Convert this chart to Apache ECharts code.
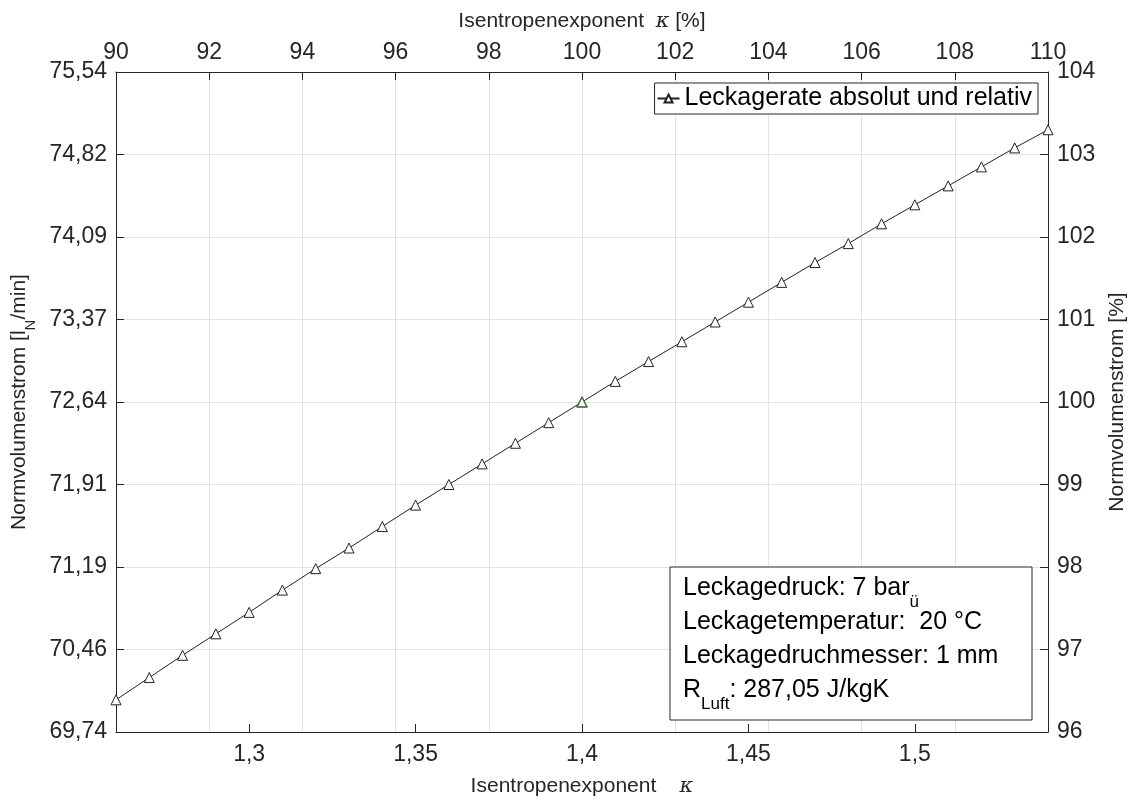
<!DOCTYPE html>
<html>
<head>
<meta charset="utf-8">
<script src="https://cdn.jsdelivr.net/npm/echarts@6/dist/echarts.min.js"></script>
<style>html,body{margin:0;padding:0;background:#fff}#c{width:1141px;height:800px}</style>
</head>
<body>
<div id="c"></div>
<script>
const kappa = [1.26,1.27,1.28,1.29,1.30,1.31,1.32,1.33,1.34,1.35,1.36,1.37,1.38,1.39,1.40,1.41,1.42,1.43,1.44,1.45,1.46,1.47,1.48,1.49,1.50,1.51,1.52,1.53,1.54];
const leckagerateRel = [96.39,96.66,96.93,97.19,97.45,97.72,97.98,98.23,98.49,98.75,99.00,99.25,99.50,99.75,100.00,100.25,100.49,100.73,100.97,101.21,101.45,101.69,101.92,102.16,102.39,102.62,102.85,103.08,103.30];
const referenzPunkt = [[1.40, 100.00]];
const leftTickLabels = ['69,74','70,46','71,19','71,91','72,64','73,37','74,09','74,82','75,54'];
const bottomTicks = [1.3,1.35,1.4,1.45,1.5];
const legendName = 'Leckagerate absolut und relativ';
const infoLines = [
  'Leckagedruck: 7 bar{sub|ü}',
  'Leckagetemperatur:  20 °C',
  'Leckagedruchmesser: 1 mm',
  'R{sub|Luft}: 287,05 J/kgK'
];

const FONT = 'Liberation Sans, Arial, sans-serif';
const TXT = '#262626';
const AX = '#262626';
const GRID = '#e3e3e3';
const FS = 23;   // tick labels
const TFS = 21;  // axis titles
const BFS = 25;  // legend / info box

const chart = echarts.init(document.getElementById('c'), null, {renderer:'canvas'});
const data = kappa.map((k,i)=>[k, leckagerateRel[i]]);
const itRich = {it:{fontFamily:'DejaVu Serif, serif',fontStyle:'italic',fontSize:TFS,color:TXT}};

chart.setOption({
  animation:false,
  backgroundColor:'#fff',
  textStyle:{fontFamily:FONT},
  grid:{left:116,right:93,top:72,bottom:68,containLabel:false,outerBoundsMode:'none'},
  legend:{
    show:true, right:103, top:83, orient:'horizontal',
    data:[legendName],
    backgroundColor:'#fff', borderColor:'#262626', borderWidth:1,
    padding:[3,6,3,2], itemWidth:22, itemHeight:10, itemGap:4,
    textStyle:{fontFamily:FONT,fontSize:BFS,color:'#000'}
  },
  xAxis:[
    {type:'value', position:'bottom', min:1.26, max:1.54,
     name:'Isentropenexponent    {it|κ}', nameLocation:'middle', nameGap:44,
     nameTextStyle:{fontFamily:FONT,fontSize:TFS,color:TXT,rich:itRich},
     axisLine:{show:true,lineStyle:{color:AX,width:1}},
     axisTick:{show:true,inside:true,length:8,customValues:bottomTicks,lineStyle:{color:AX}},
     axisLabel:{show:true,customValues:bottomTicks,margin:11,fontFamily:FONT,fontSize:FS,color:TXT,
       formatter:v=>String(Math.round(v*100)/100).replace('.',',')},
     splitLine:{show:false}},
    {type:'value', position:'top', min:90, max:110, interval:2,
     name:'Isentropenexponent  {it|κ} [%]', nameLocation:'middle', nameGap:40,
     nameTextStyle:{fontFamily:FONT,fontSize:TFS,color:TXT,rich:itRich},
     axisLine:{show:true,lineStyle:{color:AX,width:1}},
     axisTick:{show:true,inside:true,length:8,lineStyle:{color:AX}},
     axisLabel:{show:true,margin:8,fontFamily:FONT,fontSize:FS,color:TXT},
     splitLine:{show:true,lineStyle:{color:GRID,width:1}}}
  ],
  yAxis:[
    {type:'value', position:'left', min:96, max:104, interval:1,
     name:'Normvolumenstrom [l{sub|N}/min]', nameLocation:'middle', nameGap:73,
     nameTextStyle:{fontFamily:FONT,fontSize:TFS,color:TXT,rich:{sub:{fontFamily:FONT,fontSize:15,color:TXT,padding:[24,0,0,0]}}},
     axisLine:{show:true,lineStyle:{color:AX,width:1}},
     axisTick:{show:true,inside:true,length:8,lineStyle:{color:AX}},
     axisLabel:{show:true,margin:9,fontFamily:FONT,fontSize:FS,color:TXT,
       formatter:v=>leftTickLabels[Math.round(v-96)]},
     splitLine:{show:true,lineStyle:{color:GRID,width:1}}},
    {type:'value', position:'right', min:96, max:104, interval:1,
     name:'Normvolumenstrom [%]', nameLocation:'middle', nameGap:57,
     nameTextStyle:{fontFamily:FONT,fontSize:TFS,color:TXT},
     axisLine:{show:true,lineStyle:{color:AX,width:1}},
     axisTick:{show:true,inside:true,length:8,lineStyle:{color:AX}},
     axisLabel:{show:true,margin:9,fontFamily:FONT,fontSize:FS,color:TXT},
     splitLine:{show:false}}
  ],
  series:[{
    name:legendName, type:'line', xAxisIndex:0, yAxisIndex:1,
    data:data, symbol:'triangle', symbolSize:10, showSymbol:true,
    lineStyle:{color:'#222',width:1},
    itemStyle:{color:'#fff',borderColor:'#222',borderWidth:1},
    emphasis:{disabled:true}, z:5
  },{
    name:'Referenz', type:'line', xAxisIndex:0, yAxisIndex:1,
    data:referenzPunkt, symbol:'triangle', symbolSize:10, showSymbol:true,
    lineStyle:{width:0},
    itemStyle:{color:'rgba(255,255,255,0)',borderColor:'#2f7d2f',borderWidth:1.2},
    emphasis:{disabled:true}, z:6
  }],
  graphic:[
    {type:'rect', shape:{x:670,y:567,width:362,height:153}, style:{fill:'#fff',stroke:'#262626',lineWidth:1}, z:10}
  ].concat(infoLines.map((t,i)=>({
    type:'text', x:683, y:588+34*i, z:11, style:{
      text:t, font:BFS+'px '+FONT, fill:'#000', verticalAlign:'middle',
      rich:{sub:{fontSize:17,fontFamily:FONT,fill:'#000',padding:[28,0,0,0]}}
    }
  })))
});
</script>
</body>
</html>
